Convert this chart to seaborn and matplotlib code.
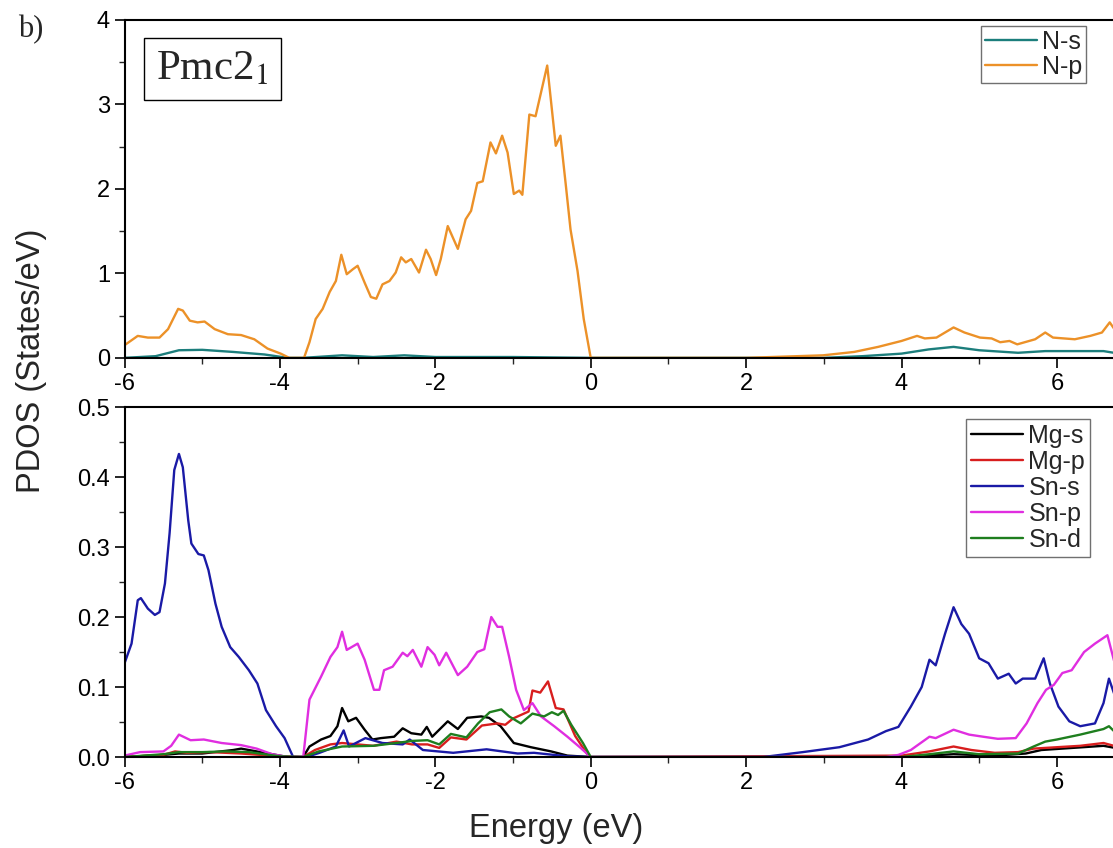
import numpy as np
import pandas as pd
import seaborn as sns
import matplotlib.pyplot as plt
from matplotlib.ticker import MultipleLocator

# ---- top panel: N projected DOS ----
ns_e = [-6.0, -5.6, -5.3, -5.0, -4.6, -4.2, -3.9, -3.7, -3.2, -2.8, -2.4, -2.0, -1.0, 0.0,
        3.0, 3.5, 4.0, 4.35, 4.67, 5.0, 5.5, 5.85, 6.2, 6.6, 6.8]
ns_v = [0.0, 0.02, 0.09, 0.095, 0.07, 0.04, 0.0, 0.0, 0.03, 0.01, 0.03, 0.01, 0.01, 0.0,
        0.0, 0.02, 0.05, 0.10, 0.13, 0.09, 0.06, 0.08, 0.08, 0.08, 0.05]

np_e = [-6.0, -5.83, -5.7, -5.55, -5.44, -5.31, -5.25, -5.16, -5.06, -4.97, -4.84, -4.67,
        -4.5, -4.33, -4.16, -3.99, -3.88, -3.69, -3.62, -3.54, -3.45, -3.36, -3.28, -3.21,
        -3.14, -3.06, -3.0, -2.91, -2.83, -2.76, -2.68, -2.59, -2.51, -2.44, -2.38, -2.31,
        -2.21, -2.12, -2.06, -1.99, -1.93, -1.84, -1.71, -1.61, -1.54, -1.46, -1.39, -1.29,
        -1.22, -1.14, -1.07, -0.99, -0.92, -0.88, -0.79, -0.71, -0.56, -0.45, -0.39, -0.32,
        -0.26, -0.17, -0.09, 0.0, 1.0, 2.0, 2.99, 3.39, 3.7, 4.0, 4.2, 4.3, 4.45, 4.67,
        4.81, 5.01, 5.16, 5.27, 5.39, 5.49, 5.72, 5.85, 5.95, 6.23, 6.43, 6.58, 6.68, 6.8]
np_v = [0.15, 0.26, 0.24, 0.24, 0.34, 0.58, 0.56, 0.44, 0.42, 0.43, 0.34, 0.28,
        0.27, 0.22, 0.11, 0.05, 0.0, 0.0, 0.185, 0.46, 0.58, 0.78, 0.91, 1.22,
        0.99, 1.05, 1.09, 0.89, 0.72, 0.70, 0.87, 0.91, 1.01, 1.19, 1.13, 1.17,
        1.01, 1.28, 1.17, 0.98, 1.17, 1.56, 1.29, 1.64, 1.74, 2.07, 2.09, 2.55,
        2.42, 2.63, 2.43, 1.94, 1.98, 1.93, 2.88, 2.86, 3.46, 2.51, 2.63, 2.04,
        1.52, 1.03, 0.46, 0.0, 0.0, 0.0, 0.03, 0.07, 0.13, 0.20, 0.26, 0.23, 0.24, 0.36,
        0.30, 0.24, 0.23, 0.185, 0.20, 0.16, 0.22, 0.30, 0.24, 0.22, 0.26, 0.30, 0.42, 0.26]

# ---- bottom panel: Mg and Sn projected DOS ----
mgs_e = [-6.0, -5.5, -5.3, -5.0, -4.6, -4.5, -4.3, -4.0, -3.9, -3.7, -3.62, -3.47, -3.35,
         -3.26, -3.2, -3.12, -3.02, -2.91, -2.81, -2.7, -2.53, -2.42, -2.31, -2.18, -2.11,
         -2.04, -1.84, -1.71, -1.59, -1.41, -1.31, -1.16, -0.99, -0.77, -0.51, -0.3, 0.0,
         4.0, 4.67, 5.2, 5.6, 5.8, 6.2, 6.6, 6.8]
mgs_v = [0.0, 0.003, 0.005, 0.005, 0.01, 0.012, 0.008, 0.002, 0.0, 0.0, 0.015, 0.025, 0.03,
         0.044, 0.070, 0.051, 0.056, 0.039, 0.025, 0.027, 0.029, 0.041, 0.034, 0.032, 0.043,
         0.029, 0.051, 0.040, 0.056, 0.058, 0.056, 0.044, 0.020, 0.014, 0.008, 0.002, 0.0,
         0.0, 0.004, 0.002, 0.005, 0.010, 0.013, 0.016, 0.012]

mgp_e = [-6.0, -5.5, -5.35, -5.2, -4.9, -4.5, -4.0, -3.7, -3.55, -3.35, -3.2, -3.0, -2.8,
         -2.5, -2.3, -2.1, -1.95, -1.8, -1.6, -1.4, -1.2, -1.1, -1.0, -0.8, -0.75, -0.65,
         -0.55, -0.45, -0.35, -0.2, -0.05, 0.0, 4.0, 4.36, 4.67, 4.9, 5.2, 5.5, 5.7, 6.0,
         6.3, 6.6, 6.8]
mgp_v = [0.0, 0.003, 0.008, 0.006, 0.007, 0.005, 0.001, 0.0, 0.010, 0.018, 0.020, 0.018, 0.016,
         0.022, 0.018, 0.018, 0.013, 0.028, 0.025, 0.045, 0.048, 0.046, 0.055, 0.065, 0.095, 0.092,
         0.108, 0.070, 0.068, 0.030, 0.005, 0.0, 0.002, 0.008, 0.015, 0.010, 0.006, 0.007, 0.012, 0.014,
         0.016, 0.020, 0.014]

sns_e = [-6.0, -5.91, -5.83, -5.79, -5.7, -5.61, -5.55, -5.48, -5.42, -5.36, -5.3, -5.25,
         -5.18, -5.14, -5.05, -4.98, -4.92, -4.83, -4.75, -4.64, -4.53, -4.4, -4.29, -4.18,
         -4.05, -3.94, -3.83, -3.66, -3.49, -3.28, -3.18, -3.11, -2.9, -2.68, -2.42, -2.33,
         -2.16, -1.77, -1.34, -0.94, -0.73, -0.3, 0.0, 2.22, 2.73, 3.2, 3.57, 3.8, 3.96,
         4.12, 4.26, 4.36, 4.44, 4.56, 4.67, 4.77, 4.87, 5.0, 5.12, 5.24, 5.38, 5.47, 5.56,
         5.72, 5.83, 5.91, 6.02, 6.16, 6.3, 6.49, 6.6, 6.67, 6.8]
sns_v = [0.134, 0.162, 0.224, 0.227, 0.212, 0.203, 0.207, 0.248, 0.32, 0.41, 0.433, 0.414,
         0.338, 0.305, 0.29, 0.288, 0.267, 0.219, 0.186, 0.157, 0.143, 0.124, 0.105, 0.067,
         0.044, 0.027, 0.0, 0.0, 0.006, 0.015, 0.038, 0.015, 0.027, 0.020, 0.018, 0.025,
         0.010, 0.006, 0.011, 0.005, 0.006, 0.001, 0.0, 0.0, 0.007, 0.014, 0.025, 0.037, 0.043,
         0.072, 0.10, 0.139, 0.131, 0.176, 0.214, 0.19, 0.176, 0.141, 0.134, 0.112, 0.119, 0.105, 0.112,
         0.112, 0.141, 0.105, 0.072, 0.051, 0.044, 0.048, 0.077, 0.112, 0.07]

snp_e = [-6.0, -5.8, -5.5, -5.4, -5.3, -5.15, -4.98, -4.75, -4.5, -4.3, -4.1, -3.9, -3.7,
         -3.62, -3.47, -3.35, -3.26, -3.2, -3.14, -3.0, -2.91, -2.79, -2.72, -2.66, -2.55,
         -2.42, -2.36, -2.29, -2.18, -2.1, -2.01, -1.95, -1.86, -1.71, -1.59, -1.46, -1.37,
         -1.28, -1.2, -1.14, -1.05, -0.96, -0.86, -0.75, -0.64, -0.47, -0.3, -0.13, 0.0,
         3.8, 3.96, 4.12, 4.36, 4.44, 4.67, 4.87, 5.05, 5.24, 5.47, 5.61, 5.75, 5.86, 5.96,
         6.07, 6.19, 6.35, 6.49, 6.65, 6.8]
snp_v = [0.002, 0.007, 0.008, 0.016, 0.032, 0.024, 0.025, 0.020, 0.017, 0.012, 0.004, 0.0, 0.0,
         0.082, 0.115, 0.143, 0.157, 0.179, 0.153, 0.162, 0.139, 0.096, 0.096, 0.124, 0.129,
         0.149, 0.144, 0.153, 0.129, 0.157, 0.146, 0.131, 0.149, 0.117, 0.129, 0.150, 0.154,
         0.200, 0.186, 0.186, 0.143, 0.096, 0.067, 0.077, 0.058, 0.044, 0.029, 0.013, 0.0,
         0.0, 0.003, 0.010, 0.029, 0.027, 0.039, 0.032, 0.029, 0.026, 0.027, 0.048, 0.077, 0.096, 0.103,
         0.120, 0.124, 0.150, 0.162, 0.174, 0.11]

snd_e = [-6.0, -5.5, -5.3, -5.0, -4.7, -4.4, -4.0, -3.7, -3.5, -3.2, -2.8, -2.5, -2.3, -2.1,
         -1.95, -1.8, -1.6, -1.45, -1.3, -1.15, -1.05, -0.9, -0.75, -0.6, -0.5, -0.42, -0.35,
         -0.25, -0.1, 0.0, 4.0, 4.36, 4.67, 5.0, 5.5, 5.7, 5.85, 6.0, 6.3, 6.6, 6.67, 6.8]
snd_v = [0.0, 0.004, 0.007, 0.007, 0.008, 0.007, 0.001, 0.0, 0.008, 0.015, 0.016, 0.020, 0.023, 0.024,
         0.018, 0.033, 0.028, 0.048, 0.064, 0.068, 0.058, 0.048, 0.062, 0.058, 0.064, 0.060, 0.066,
         0.046, 0.020, 0.0, 0.0, 0.004, 0.008, 0.004, 0.005, 0.015, 0.022, 0.025, 0.032, 0.040, 0.044, 0.03]

top_labels = ['N-s', 'N-p']
top_colors = ['#1c7e7c', '#ec9128']
bot_labels = ['Mg-s', 'Mg-p', 'Sn-s', 'Sn-p', 'Sn-d']
bot_colors = ['#000000', '#d81e1e', '#1a1aa6', '#e02ee0', '#1e7e1e']

top_df = pd.concat([
    pd.DataFrame({'E': ns_e, 'DOS': ns_v, 'orb': 'N-s'}),
    pd.DataFrame({'E': np_e, 'DOS': np_v, 'orb': 'N-p'}),
])
bot_df = pd.concat([
    pd.DataFrame({'E': mgs_e, 'DOS': mgs_v, 'orb': 'Mg-s'}),
    pd.DataFrame({'E': mgp_e, 'DOS': mgp_v, 'orb': 'Mg-p'}),
    pd.DataFrame({'E': sns_e, 'DOS': sns_v, 'orb': 'Sn-s'}),
    pd.DataFrame({'E': snp_e, 'DOS': snp_v, 'orb': 'Sn-p'}),
    pd.DataFrame({'E': snd_e, 'DOS': snd_v, 'orb': 'Sn-d'}),
])

sns.set_theme(style='ticks')
plt.rcParams['font.family'] = ['Liberation Sans', 'DejaVu Sans']
plt.rcParams['mathtext.fontset'] = 'stix'
plt.rcParams['axes.unicode_minus'] = False

fig = plt.figure(figsize=(11.13, 8.48), dpi=100)
ax1 = fig.add_axes([0.1119, 0.578, 0.9075, 0.3985])
ax2 = fig.add_axes([0.1119, 0.1073, 0.9075, 0.4127])

sns.lineplot(data=top_df, x='E', y='DOS', hue='orb', hue_order=top_labels,
             palette=top_colors, estimator=None, sort=False, linewidth=1.7, ax=ax1)
sns.lineplot(data=bot_df, x='E', y='DOS', hue='orb', hue_order=bot_labels,
             palette=bot_colors, estimator=None, sort=False, linewidth=1.7, ax=ax2)

for ax, ymax, ymaj, ymin in [(ax1, 4, 1, 0.5), (ax2, 0.5, 0.1, 0.05)]:
    ax.set_xlim(-6, 7)
    ax.set_ylim(0, ymax)
    ax.xaxis.set_major_locator(MultipleLocator(2))
    ax.xaxis.set_minor_locator(MultipleLocator(1))
    ax.yaxis.set_major_locator(MultipleLocator(ymaj))
    ax.yaxis.set_minor_locator(MultipleLocator(ymin))
    ax.tick_params(which='major', direction='out', length=7, width=1.2, labelsize=17, colors='black')
    ax.tick_params(which='minor', direction='out', length=4, width=1.0)
    ax.tick_params(axis='x', which='both', top=False)
    ax.tick_params(axis='y', which='both', right=False)
    for s in ax.spines.values():
        s.set_linewidth(1.5)
        s.set_color('black')
    ax.set_xlabel('')
    ax.set_ylabel('')

ax1.set_yticks([0, 1, 2, 3, 4])
ax1.set_yticklabels(['0', '1', '2', '3', '4'])
ax2.set_yticks([0, 0.1, 0.2, 0.3, 0.4, 0.5])
ax2.set_yticklabels(['0.0', '0.1', '0.2', '0.3', '0.4', '0.5'])
ax1.tick_params(axis='x', pad=4)

ax1.legend(loc='upper right', bbox_to_anchor=(0.952, 0.982), fontsize=18, frameon=True,
           fancybox=False, edgecolor='#707070', handlelength=2.1, handletextpad=0.2,
           labelspacing=0.05, borderpad=0.15, borderaxespad=0)
ax2.legend(loc='upper right', bbox_to_anchor=(0.956, 0.966), fontsize=18, frameon=True,
           fancybox=False, edgecolor='#707070', handlelength=2.1, handletextpad=0.2,
           labelspacing=0.08, borderpad=0.2, borderaxespad=0)
for leg in (ax1.get_legend(), ax2.get_legend()):
    leg.get_frame().set_linewidth(1.0)
    leg.get_frame().set_alpha(1)

ax1.text(0.087, 0.855, r'Pmc2$_1$', transform=ax1.transAxes, ha='center', va='center',
         fontsize=31, family='Liberation Serif',
         bbox=dict(boxstyle='square,pad=0.28', fc='white', ec='black', lw=1.0))

fig.text(0.016, 0.982, 'b)', family='Liberation Serif', fontsize=22, va='top', ha='left')
fig.text(0.5, 0.013, 'Energy (eV)', ha='center', va='baseline', fontsize=23.5)
fig.text(0.028, 0.575, 'PDOS (States/eV)', rotation=90, ha='center', va='center', fontsize=23.5)

fig.savefig('out.png', dpi=100)
